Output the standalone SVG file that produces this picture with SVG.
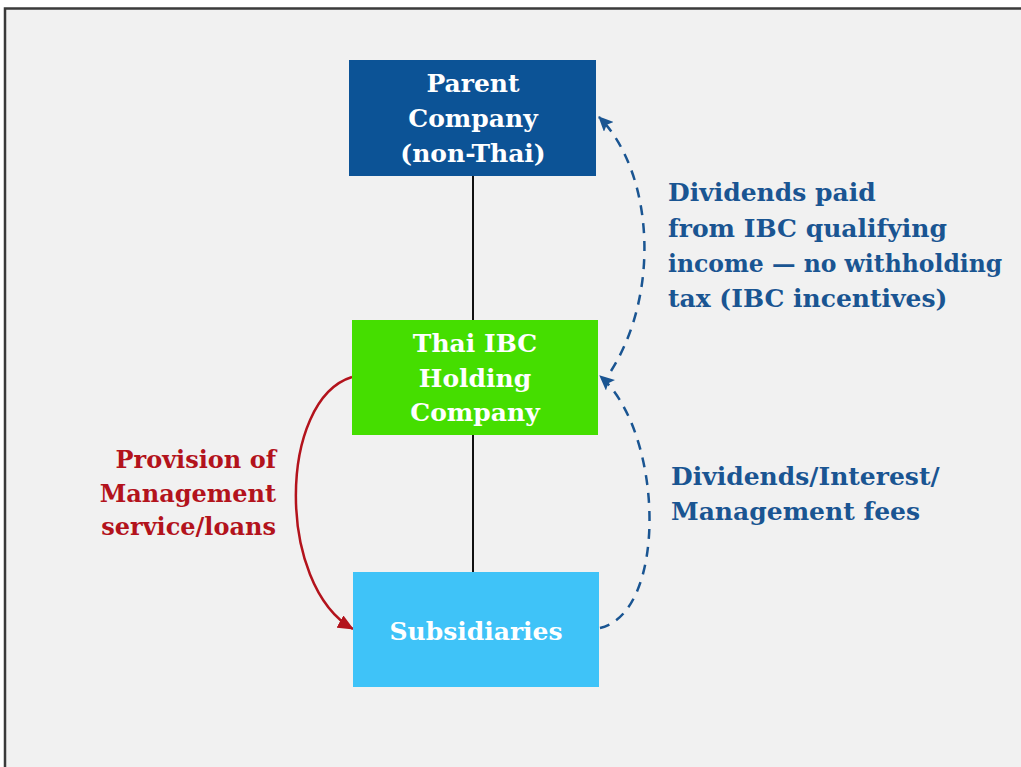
<svg xmlns="http://www.w3.org/2000/svg" width="1021" height="767" viewBox="0 0 1021 767">
<defs>
<style>
.t{font-family:"DejaVu Serif","Liberation Serif",serif;font-weight:bold;font-size:25px}
.w{fill:#ffffff;text-anchor:middle}
.b{fill:#1a5592}
.r{fill:#b3131c;text-anchor:end;font-size:24px}
.conn{fill:none}
</style>
<marker id="ab" markerWidth="15" markerHeight="14" refX="14" refY="7" orient="auto" markerUnits="userSpaceOnUse" viewBox="0 0 15 14"><path d="M0,0 L15,7 L0,14 L3,7 z" fill="#1a5592"/></marker>
<marker id="ar" markerWidth="16" markerHeight="14" refX="15" refY="7" orient="auto" markerUnits="userSpaceOnUse" viewBox="0 0 16 14"><path d="M0,0 L16,7 L0,14 z" fill="#b3131c"/></marker>
</defs>
<rect x="0" y="0" width="1021" height="767" fill="#ffffff"/>
<rect x="5" y="8.5" width="1030" height="770" fill="#f1f1f1" stroke="#3a3a3a" stroke-width="2.5"/>
<g id="connectors" class="conn">
<line x1="473" y1="176" x2="473" y2="320" stroke="#111" stroke-width="2"/>
<line x1="473" y1="435" x2="473" y2="572" stroke="#111" stroke-width="2"/>
<path d="M352,377 C278,400 276,585 353,629" stroke="#b3131c" stroke-width="2.5" marker-end="url(#ar)"/>
<path d="M611,371 C662,290 652,170 599,117" stroke="#1a5592" stroke-width="2.5" stroke-dasharray="10,8" marker-end="url(#ab)"/>
<path d="M600,628 C668,612 664,432 600,376" stroke="#1a5592" stroke-width="2.5" stroke-dasharray="10,8" marker-end="url(#ab)"/>
</g>
<g id="parent">
<rect x="349" y="60" width="247" height="116" fill="#0c5396"/>
<text class="t w" x="473" y="92">Parent</text>
<text class="t w" x="473" y="127">Company</text>
<text class="t w" x="473" y="162">(non-Thai)</text>
</g>
<g id="thai-ibc">
<rect x="352" y="320" width="246" height="115" fill="#45de00"/>
<text class="t w" x="475" y="352">Thai IBC</text>
<text class="t w" x="475" y="387">Holding</text>
<text class="t w" x="475" y="421">Company</text>
</g>
<g id="subsidiaries">
<rect x="353" y="572" width="246" height="115" fill="#3fc3f8"/>
<text class="t w" x="476" y="640">Subsidiaries</text>
</g>
<g id="label-provision">
<text class="t r" x="276" y="468">Provision of</text>
<text class="t r" x="276" y="502">Management</text>
<text class="t r" x="276" y="535">service/loans</text>
</g>
<g id="label-dividends-ibc">
<text class="t b" x="668" y="201">Dividends paid</text>
<text class="t b" x="668" y="237">from IBC qualifying</text>
<text class="t b" x="668" y="272" font-size="23.5" style="font-size:23.5px">income — no withholding</text>
<text class="t b" x="668" y="307">tax (IBC incentives)</text>
</g>
<g id="label-dividends-sub">
<text class="t b" x="671" y="485">Dividends/Interest/</text>
<text class="t b" x="671" y="520">Management fees</text>
</g>
</svg>
